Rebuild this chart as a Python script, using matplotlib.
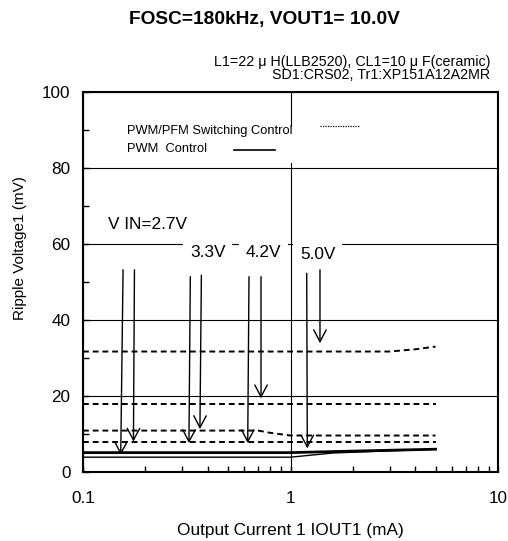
import matplotlib
matplotlib.use("Agg")
import matplotlib.pyplot as plt
from matplotlib.patches import Rectangle
from matplotlib.ticker import LogLocator, MultipleLocator, NullFormatter

plt.rcParams['font.family'] = ['Liberation Sans', 'DejaVu Sans']

# PWM/PFM switching control (dashed), one curve per VIN
pfm_x_50 = [0.1, 3.0, 4.0, 5.0]
pfm_y_50 = [31.7, 31.7, 32.3, 33.0]
pfm_x_42 = [0.1, 5.0]
pfm_y_42 = [17.8, 17.8]
pfm_x_33 = [0.1, 0.7, 0.8, 1.0, 5.0]
pfm_y_33 = [10.9, 10.9, 10.3, 9.6, 9.6]
pfm_x_27 = [0.1, 5.0]
pfm_y_27 = [7.8, 7.8]

# PWM control (solid)
pwm_x_hi = [0.1, 1.0, 2.0, 5.0]
pwm_y_hi = [5.1, 5.1, 5.5, 6.0]
pwm_x_lo = [0.1, 1.0, 1.6, 5.0]
pwm_y_lo = [3.9, 3.9, 5.0, 6.0]

# VIN labels and the arrows pointing at the curves
vin_labels = ['V IN=2.7V', '3.3V', '4.2V', '5.0V']
label_x = [0.132, 0.328, 0.610, 1.111]
label_y = [65.0, 57.8, 57.8, 57.3]
arrow_x0 = [0.156, 0.177, 0.329, 0.372, 0.631, 0.721, 1.197, 1.387]
arrow_y0 = [53.2, 53.2, 51.4, 51.8, 51.4, 51.4, 52.3, 53.2]
arrow_x1 = [0.152, 0.175, 0.324, 0.366, 0.622, 0.721, 1.205, 1.387]
arrow_y1 = [4.5, 8.0, 7.6, 11.3, 7.6, 19.4, 6.2, 33.9]

fig = plt.figure(figsize=(5.08, 5.41), dpi=100)
ax = fig.add_axes([83 / 508, 69 / 541, 415 / 508, 380 / 541])

dash = (0, (3, 2))
for xs, ys in [(pfm_x_50, pfm_y_50), (pfm_x_42, pfm_y_42),
               (pfm_x_33, pfm_y_33), (pfm_x_27, pfm_y_27)]:
    ax.plot(xs, ys, color='black', lw=1.4, linestyle=dash, zorder=2)
ax.plot(pwm_x_hi, pwm_y_hi, color='black', lw=2.0, zorder=2)
ax.plot(pwm_x_lo, pwm_y_lo, color='black', lw=1.0, zorder=2)

for x0, y0, x1, y1 in zip(arrow_x0, arrow_y0, arrow_x1, arrow_y1):
    ax.annotate('', xy=(x1, y1), xytext=(x0, y0),
                arrowprops=dict(arrowstyle='->,head_length=0.85,head_width=0.45',
                                color='black', lw=1.0, shrinkA=0, shrinkB=0),
                zorder=3)

for s, x, y in zip(vin_labels, label_x, label_y):
    ax.text(x, y, s, fontsize=12.4, ha='left', va='center', zorder=4,
            bbox=dict(boxstyle='square,pad=0.4', fc='white', ec='none'))

# legend-like block
ax.add_patch(Rectangle((0.089, 0.813), 0.434, 0.095, transform=ax.transAxes,
                       fc='white', ec='none', zorder=4))
ax.text(0.106, 0.897, 'PWM/PFM Switching Control', transform=ax.transAxes,
        fontsize=9.3, va='center', ha='left', zorder=5)
ax.text(0.106, 0.850, 'PWM  Control', transform=ax.transAxes,
        fontsize=9.3, va='center', ha='left', zorder=5)
ax.plot([0.571, 0.667], [0.911, 0.911], transform=ax.transAxes, color='black',
        lw=0.9, linestyle=(0, (1, 1)), zorder=5)
ax.plot([0.364, 0.463], [0.847, 0.847], transform=ax.transAxes, color='black',
        lw=1.2, zorder=5)

ax.set_xscale('log')
ax.set_xlim(0.1, 10)
ax.set_ylim(0, 100)
ax.set_xticks([0.1, 1, 10])
ax.set_xticklabels(['0.1', '1', '10'])
ax.xaxis.set_minor_locator(LogLocator(base=10, subs=range(2, 10)))
ax.xaxis.set_minor_formatter(NullFormatter())
ax.set_yticks(range(0, 101, 20))
ax.yaxis.set_minor_locator(MultipleLocator(10))

ax.tick_params(which='both', direction='in', top=False, right=False,
               width=1, labelsize=12.3)
ax.tick_params(which='major', length=4)
ax.tick_params(which='minor', length=4)
ax.tick_params(axis='x', pad=14)
ax.tick_params(axis='y', pad=9)

ax.set_axisbelow(True)
ax.grid(True, which='major', color='black', lw=0.8)
for sp in ax.spines.values():
    sp.set_linewidth(1.5)

ax.set_xlabel('Output Current 1 IOUT1 (mA)', fontsize=12.4)
ax.xaxis.label.set_verticalalignment('center')
ax.xaxis.set_label_coords(0.499, -0.153)
ax.set_ylabel('Ripple Voltage1 (mV)', fontsize=11)
ax.yaxis.label.set_verticalalignment('center')
ax.yaxis.set_label_coords(-0.152, 0.589)

fig.text(264 / 508, 1 - 19.3 / 541, 'FOSC=180kHz, VOUT1= 10.0V', fontsize=13.8,
         fontweight='bold', ha='center', va='center')
fig.text(490 / 508, 1 - 61.7 / 541, 'L1=22 μ H(LLB2520), CL1=10 μ F(ceramic)',
         fontsize=10.3, ha='right', va='center')
fig.text(490 / 508, 1 - 75 / 541, 'SD1:CRS02, Tr1:XP151A12A2MR',
         fontsize=10.3, ha='right', va='center')

fig.savefig('out.png', dpi=100)
